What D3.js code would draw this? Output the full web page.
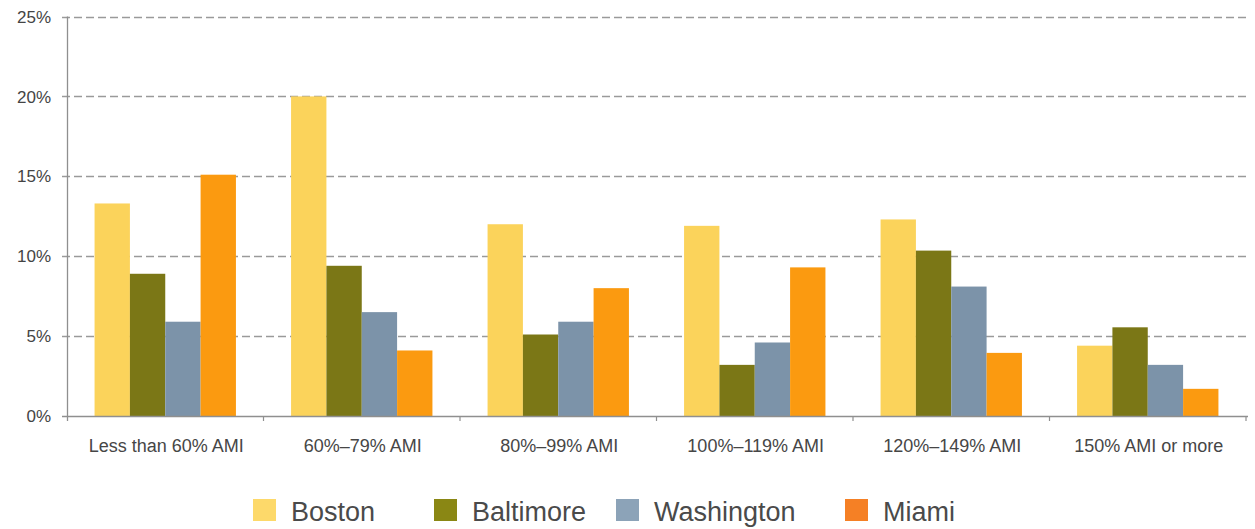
<!DOCTYPE html>
<html><head><meta charset="utf-8">
<script src="https://cdn.jsdelivr.net/npm/d3@7"></script>
<style>body{margin:0;background:#fff;}svg{display:block;font-family:"Liberation Sans",Arial,sans-serif;}</style>
</head><body>
<svg id="chart" width="1255" height="529"></svg>
<script>
const categories = ["Less than 60% AMI","60%\u201379% AMI","80%\u201399% AMI","100%\u2013119% AMI","120%\u2013149% AMI","150% AMI or more"];
const seriesNames = ["Boston","Baltimore","Washington","Miami"];
const boston     = [13.3, 20.0, 12.0, 11.9, 12.3, 4.4];
const baltimore  = [8.9, 9.4, 5.1, 3.2, 10.35, 5.55];
const washington = [5.9, 6.5, 5.9, 4.6, 8.1, 3.2];
const miami      = [15.1, 4.1, 8.0, 9.3, 3.95, 1.7];
const yTicks = [0,5,10,15,20,25];
const barColors = ["#fbd35b","#7b7716","#7c93a9","#fb9a10"];
const legendColors = ["#fdd96a","#8a8714","#8ca3b8","#f58025"];
const seriesValues = [boston, baltimore, washington, miami];

const svg = d3.select("#chart");
const m = {left:67, right:1246, top:16.5, bottom:416};
const x = d3.scaleBand().domain(categories).range([m.left, m.right]).paddingInner(0).paddingOuter(0);
const x1 = d3.scaleBand().domain(seriesNames).range([0, x.bandwidth()]).paddingInner(0).paddingOuter(0.78);
const y = d3.scaleLinear().domain([0,25]).range([m.bottom, m.top]);

// grid
svg.append("g").selectAll("line").data(yTicks.filter(d=>d>0)).join("line")
  .attr("x1", 62).attr("x2", m.right+2)
  .attr("y1", d=>Math.round(y(d))+0.5).attr("y2", d=>Math.round(y(d))+0.5)
  .attr("stroke","#9a9a9a").attr("stroke-width",1.3).attr("stroke-dasharray","8,4");

// bars
const groups = svg.append("g").selectAll("g").data(categories).join("g")
  .attr("transform", d=>`translate(${x(d)},0)`);
groups.selectAll("rect").data((c,i)=>seriesNames.map((s,j)=>({s, v:seriesValues[j][i], j}))).join("rect")
  .attr("x", d=>x1(d.s)).attr("width", x1.bandwidth())
  .attr("y", d=>y(d.v)).attr("height", d=>m.bottom - y(d.v))
  .attr("fill", d=>barColors[d.j]);

// x axis
const gx = svg.append("g").attr("transform",`translate(0,${m.bottom})`);
gx.append("line").attr("x1",62).attr("x2",m.right+2).attr("y1",0.5).attr("y2",0.5).attr("stroke","#8f8f8f").attr("stroke-width",1.5);
gx.selectAll("line.tk").data(categories.map((c)=>x(c)+x.bandwidth())).join("line").attr("class","tk")
  .attr("x1",d=>d).attr("x2",d=>d).attr("y1",0).attr("y2",5).attr("stroke","#8f8f8f").attr("stroke-width",1.2);
gx.selectAll("text").data(categories).join("text")
  .attr("x", d=>x(d)+x.bandwidth()/2+1).attr("y", 36)
  .attr("text-anchor","middle").attr("font-size",18).attr("fill","#464646").text(d=>d);

// y axis
const gy = svg.append("g");
gy.append("line").attr("x1",m.left+0.5).attr("x2",m.left+0.5).attr("y1",m.top).attr("y2",m.bottom+5).attr("stroke","#8f8f8f").attr("stroke-width",1.3);
gy.selectAll("text").data(yTicks).join("text")
  .attr("x",51).attr("y",d=>y(d)).attr("dy","0.36em")
  .attr("text-anchor","end").attr("font-size",17).attr("fill","#444").text(d=>d+"%");

// legend
const legendX = [253, 434, 616, 845];
const lg = svg.append("g").selectAll("g").data(seriesNames).join("g")
  .attr("transform",(d,i)=>`translate(${legendX[i]},499)`);
lg.append("rect").attr("width",23).attr("height",22).attr("fill",(d,i)=>legendColors[i]);
lg.append("text").attr("x",38).attr("y",12).attr("dy","0.36em").attr("font-size",27).attr("fill","#4a4a4a").text(d=>d);
</script>
</body></html>
